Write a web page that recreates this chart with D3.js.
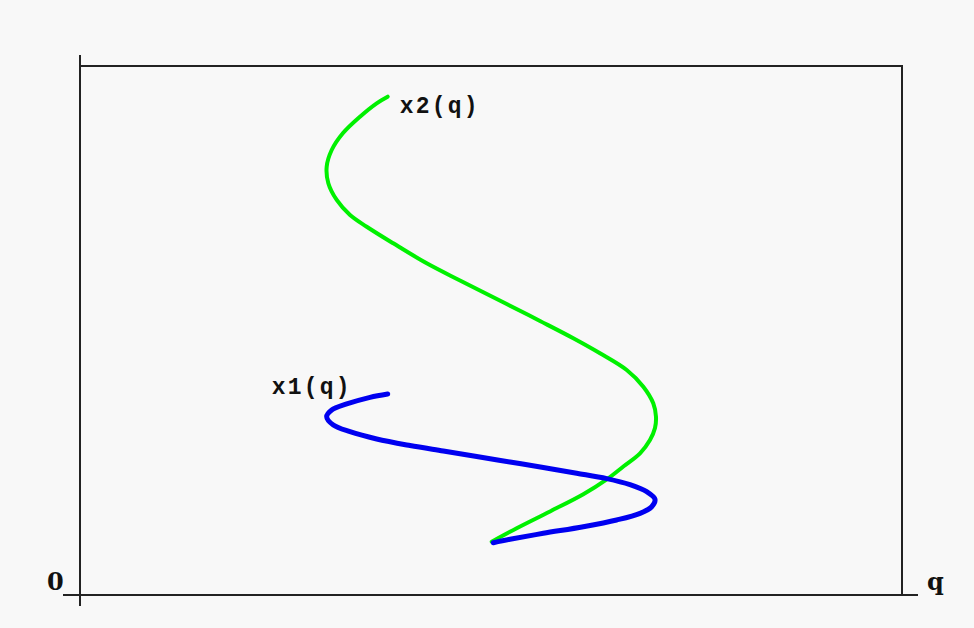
<!DOCTYPE html>
<html>
<head>
<meta charset="utf-8">
<script src="https://cdn.jsdelivr.net/npm/d3@7"></script>
<style>
  html, body { margin: 0; padding: 0; background: #f8f8f8; }
  svg { display: block; }
</style>
</head>
<body>
<svg id="chart" width="974" height="628"></svg>
<script>
// Parametric curves: horizontal (h) and vertical (v) coordinates of each sample
const x2H = [3.743, 3.609, 3.406, 3.200, 3.062, 3.001, 3.021, 3.123, 3.285, 3.488,
             3.811, 4.218, 4.623, 5.191, 5.596, 6.001, 6.326, 6.651, 6.853, 6.974,
             7.007, 6.995, 6.934, 6.813, 6.610, 6.408, 6.123, 5.718, 5.313, 5.009];
const x2V = [9.420, 9.295, 9.042, 8.733, 8.412, 8.096, 7.783, 7.467, 7.183, 6.962,
             6.648, 6.270, 5.945, 5.501, 5.180, 4.853, 4.569, 4.253, 3.938, 3.624,
             3.371, 3.157, 2.930, 2.679, 2.430, 2.186, 1.905, 1.580, 1.263, 1.008];

const x1H = [3.743, 3.528, 3.245, 3.062, 3.001, 3.082, 3.285, 3.609, 4.015, 4.420,
             4.826, 5.231, 5.636, 6.042, 6.408, 6.691, 6.894, 6.995, 6.955, 6.813,
             6.529, 6.123, 5.636, 5.231, 5.028];
const x1V = [3.800, 3.737, 3.611, 3.497, 3.371, 3.214, 3.087, 2.949, 2.826, 2.722,
             2.618, 2.514, 2.410, 2.302, 2.200, 2.085, 1.953, 1.809, 1.669, 1.544,
             1.418, 1.291, 1.166, 1.053, 0.989];

const seriesNames = ["x1(q)", "x2(q)"];
const axisLabels = ["0", "q"];

const svg = d3.select("#chart");

const x = d3.scaleLinear().domain([0, 10]).range([80, 902]);
const y = d3.scaleLinear().domain([0, 10]).range([595, 66]);

const frame = svg.append("g")
  .attr("stroke", "#222")
  .attr("stroke-width", 2)
  .attr("fill", "none");

// top and right edges of the plot box
frame.append("path")
  .attr("d", `M${x(0)},${y(10)}H${x(10)}V${y(0)}`);
// vertical axis, overshooting the box at both ends
frame.append("line")
  .attr("x1", x(0)).attr("x2", x(0))
  .attr("y1", y(10) - 11).attr("y2", y(0) + 11);
// horizontal axis, overshooting the box at both ends
frame.append("line")
  .attr("x1", x(0) - 17).attr("x2", x(10) + 16)
  .attr("y1", y(0)).attr("y2", y(0));

const line = d3.line()
  .x(d => x(d[0]))
  .y(d => y(d[1]))
  .curve(d3.curveCatmullRom.alpha(0.5));

const x2Pts = x2H.map((h, i) => [h, x2V[i]]);
const x1Pts = x1H.map((h, i) => [h, x1V[i]]);

svg.append("path")
  .datum(x2Pts)
  .attr("d", line)
  .attr("fill", "none")
  .attr("stroke", "#00f000")
  .attr("stroke-width", 4)
  .attr("stroke-linecap", "round")
  .attr("stroke-linejoin", "round");

svg.append("path")
  .datum(x1Pts)
  .attr("d", line)
  .attr("fill", "none")
  .attr("stroke", "#0000f0")
  .attr("stroke-width", 5)
  .attr("stroke-linecap", "round")
  .attr("stroke-linejoin", "round");

// series labels beside the upper end of each curve
const labelFont = "'Liberation Mono', 'Courier New', monospace";
svg.append("text")
  .attr("x", x(x2H[0]) + 12)
  .attr("y", y(x2V[0]) + 16)
  .attr("font-family", labelFont)
  .attr("font-weight", "bold")
  .attr("font-size", 23)
  .attr("letter-spacing", 2.2)
  .attr("fill", "#111")
  .text(seriesNames[1]);

svg.append("text")
  .attr("x", x(x1H[0]) - 116)
  .attr("y", y(x1V[0]))
  .attr("font-family", labelFont)
  .attr("font-weight", "bold")
  .attr("font-size", 23)
  .attr("letter-spacing", 2.2)
  .attr("fill", "#111")
  .text(seriesNames[0]);

// origin and horizontal-axis labels
const axisFont = "'DejaVu Serif', 'Liberation Serif', serif";
svg.append("text")
  .attr("x", x(0) - 33)
  .attr("y", y(0) - 5)
  .attr("font-family", axisFont)
  .attr("font-weight", "bold")
  .attr("font-size", 24)
  .attr("fill", "#111")
  .text(axisLabels[0]);

svg.append("text")
  .attr("x", x(10) + 25)
  .attr("y", y(0) - 5)
  .attr("font-family", axisFont)
  .attr("font-weight", "bold")
  .attr("font-size", 24)
  .attr("fill", "#111")
  .text(axisLabels[1]);
</script>
</body>
</html>
